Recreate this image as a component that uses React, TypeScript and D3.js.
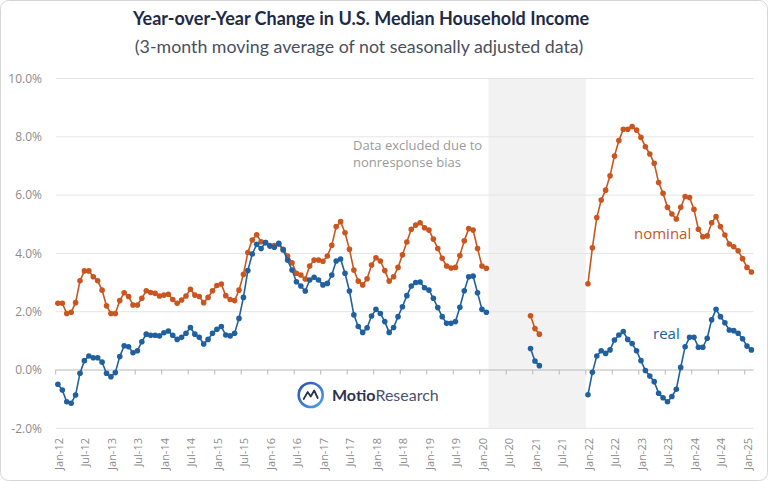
import { useEffect, useRef } from "react";
import * as d3 from "d3";

const WIDTH = 768;
const HEIGHT = 481;

// Monthly categories Jan-12 .. Feb-25
const MONTH_NAMES = ["Jan", "Feb", "Mar", "Apr", "May", "Jun", "Jul", "Aug", "Sep", "Oct", "Nov", "Dec"];
const START_YEAR = 2012;
const MONTH_COUNT = 158;
const months: string[] = d3.range(MONTH_COUNT).map(
  (i) => `${MONTH_NAMES[i % 12]}-${String((START_YEAR + Math.floor(i / 12)) % 100).padStart(2, "0")}`
);

const yTicks = [-2, 0, 2, 4, 6, 8, 10];

// Excluded period (nonresponse bias)
const excludedStart = "Mar-20";
const excludedEnd = "Dec-21";

// YoY % change, 3-month moving average; null = excluded
const nominal: (number | null)[] = [
  2.29, 2.29, 1.94, 1.98, 2.31, 3.06, 3.40, 3.40, 3.20, 3.06, 2.74, 2.20,
  1.94, 1.94, 2.38, 2.65, 2.52, 2.23, 2.23, 2.46, 2.72, 2.66, 2.63, 2.54,
  2.57, 2.60, 2.42, 2.29, 2.40, 2.54, 2.77, 2.57, 2.52, 2.31, 2.49, 2.72,
  2.90, 2.95, 2.55, 2.42, 2.38, 2.74, 3.28, 4.03, 4.46, 4.64, 4.40, 4.37,
  4.27, 4.27, 4.31, 4.14, 3.91, 3.68, 3.32, 3.26, 3.12, 3.57, 3.77, 3.77,
  3.73, 3.91, 4.28, 4.92, 5.09, 4.71, 4.14, 3.43, 3.05, 2.92, 3.13, 3.60,
  3.85, 3.74, 3.41, 3.05, 3.20, 3.52, 3.95, 4.39, 4.83, 4.97, 5.05, 4.88,
  4.80, 4.49, 4.17, 3.83, 3.57, 3.50, 3.52, 3.93, 4.43, 4.85, 4.80, 4.17,
  3.57, 3.49, null, null, null, null, null, null, null, null, null, 1.86,
  1.42, 1.23, null, null, null, null, null, null, null, null, null, null,
  2.96, 4.19, 5.23, 5.83, 6.17, 6.66, 7.34, 7.87, 8.26, 8.26, 8.35, 8.23,
  7.98, 7.66, 7.41, 7.09, 6.43, 6.06, 5.58, 5.35, 5.18, 5.58, 5.95, 5.92,
  5.51, 4.83, 4.57, 4.60, 5.05, 5.26, 4.92, 4.63, 4.32, 4.23, 4.09, 3.82,
  3.52, 3.36,
];

const real: (number | null)[] = [
  -0.49, -0.69, -1.09, -1.14, -0.86, -0.11, 0.32, 0.48, 0.42, 0.42, 0.27, -0.11,
  -0.23, -0.09, 0.46, 0.83, 0.80, 0.59, 0.66, 0.97, 1.23, 1.19, 1.19, 1.17,
  1.28, 1.34, 1.19, 1.05, 1.12, 1.26, 1.46, 1.23, 1.12, 0.89, 1.05, 1.26,
  1.40, 1.49, 1.20, 1.17, 1.26, 1.77, 2.49, 3.41, 3.98, 4.31, 4.17, 4.37,
  4.25, 4.21, 4.35, 4.12, 3.77, 3.43, 3.03, 2.88, 2.71, 3.09, 3.18, 3.09,
  2.92, 2.97, 3.26, 3.74, 3.81, 3.32, 2.71, 1.89, 1.49, 1.29, 1.45, 1.85,
  2.08, 1.94, 1.66, 1.29, 1.46, 1.83, 2.17, 2.55, 2.88, 3.00, 3.02, 2.82,
  2.74, 2.46, 2.14, 1.83, 1.60, 1.60, 1.66, 2.15, 2.72, 3.20, 3.22, 2.65,
  2.08, 1.98, null, null, null, null, null, null, null, null, null, 0.74,
  0.31, 0.15, null, null, null, null, null, null, null, null, null, null,
  -0.85, -0.08, 0.48, 0.66, 0.57, 0.69, 1.03, 1.20, 1.32, 1.05, 0.91, 0.66,
  0.32, -0.02, -0.21, -0.40, -0.80, -0.95, -1.09, -0.91, -0.66, 0.09, 0.80, 1.12,
  1.12, 0.78, 0.78, 1.09, 1.72, 2.08, 1.83, 1.62, 1.37, 1.35, 1.26, 1.07,
  0.82, 0.69,
];

const ORANGE = "#c9561f";
const BLUE = "#21609f";
const PLOT = { left: 55.7, right: 753.6, top: 78.5, bottom: 428.3 };
const FONT = "'Open Sans', 'Noto Sans', sans-serif";
const TITLE_FONT = "Lato, 'Open Sans', sans-serif";

export default function App() {
  const svgRef = useRef<SVGSVGElement>(null);

  useEffect(() => {
    const svg = d3.select(svgRef.current);
    svg.selectAll("*").remove();

    svg.append("rect")
      .attr("x", 0.5).attr("y", 0.5)
      .attr("width", WIDTH - 1).attr("height", HEIGHT - 1)
      .attr("rx", 8)
      .attr("fill", "#ffffff")
      .attr("stroke", "#d6d6d6");

    const x = d3.scaleBand<string>()
      .domain(months)
      .range([PLOT.left, PLOT.right])
      .padding(0);
    const bw = x.bandwidth();
    const cx = (m: string) => (x(m) ?? 0) + bw / 2;

    const y = d3.scaleLinear().domain([-2, 10]).range([PLOT.bottom, PLOT.top]);

    // Excluded band
    svg.append("rect")
      .attr("x", x(excludedStart) ?? 0)
      .attr("y", y(10))
      .attr("width", (x(excludedEnd) ?? 0) + bw - (x(excludedStart) ?? 0))
      .attr("height", y(-2) - y(10))
      .attr("fill", "#f2f2f2");

    // Gridlines
    yTicks.filter((t) => t !== 0).forEach((t) => {
      svg.append("line")
        .attr("x1", PLOT.left).attr("x2", PLOT.right)
        .attr("y1", y(t)).attr("y2", y(t))
        .attr("stroke", "#e4e4e4")
        .attr("stroke-width", 1);
    });

    // Zero axis with ticks
    svg.append("line")
      .attr("x1", PLOT.left).attr("x2", PLOT.right)
      .attr("y1", y(0)).attr("y2", y(0))
      .attr("stroke", "#b8b8b8")
      .attr("stroke-width", 1);

    const tickMonths = months.filter((_, i) => i % 6 === 0);
    tickMonths.forEach((m) => {
      svg.append("line")
        .attr("x1", x(m) ?? 0).attr("x2", x(m) ?? 0)
        .attr("y1", y(0)).attr("y2", y(0) + 4.5)
        .attr("stroke", "#b8b8b8");
    });

    // Y labels
    yTicks.forEach((t) => {
      svg.append("text")
        .attr("x", 42)
        .attr("y", y(t))
        .attr("dy", "0.35em")
        .attr("text-anchor", "end")
        .attr("font-size", "12px")
        .attr("font-family", FONT)
        .attr("fill", "#8c8c8c")
        .text(`${t.toFixed(1)}%`);
    });

    // X labels (rotated)
    tickMonths.forEach((m) => {
      svg.append("text")
        .attr("transform", `translate(${cx(m) + 1},438) rotate(-90)`)
        .attr("dy", "0.35em")
        .attr("text-anchor", "end")
        .attr("font-size", "11px")
        .attr("font-family", FONT)
        .attr("fill", "#8c8c8c")
        .text(m);
    });

    // Annotation
    ["Data excluded due to", "nonresponse bias"].forEach((s, i) => {
      svg.append("text")
        .attr("x", 353)
        .attr("y", 150 + i * 17)
        .attr("font-size", "13px")
        .attr("font-family", FONT)
        .attr("fill", "#9a9a9a")
        .text(s);
    });

    // Series
    const drawSeries = (values: (number | null)[], color: string) => {
      const pts = months.map((m, i) => ({ m, v: values[i] }));
      const line = d3.line<{ m: string; v: number | null }>()
        .defined((d) => d.v !== null)
        .x((d) => cx(d.m))
        .y((d) => y(d.v as number));
      svg.append("path")
        .attr("d", line(pts))
        .attr("fill", "none")
        .attr("stroke", color)
        .attr("stroke-width", 1.6);
      svg.append("g")
        .selectAll("circle")
        .data(pts.filter((d) => d.v !== null))
        .join("circle")
        .attr("cx", (d) => cx(d.m))
        .attr("cy", (d) => y(d.v as number))
        .attr("r", 2.8)
        .attr("fill", color);
    };
    drawSeries(nominal, ORANGE);
    drawSeries(real, BLUE);

    // Series labels
    svg.append("text")
      .attr("x", 634).attr("y", 239)
      .attr("font-size", "15px")
      .attr("font-family", FONT)
      .attr("fill", ORANGE)
      .text("nominal");
    svg.append("text")
      .attr("x", 653).attr("y", 339)
      .attr("font-size", "15px")
      .attr("font-family", FONT)
      .attr("fill", BLUE)
      .text("real");

    // Title
    svg.append("text")
      .attr("x", 361).attr("y", 25)
      .attr("text-anchor", "middle")
      .attr("font-size", "18px")
      .attr("font-weight", "bold")
      .attr("font-family", TITLE_FONT)
      .attr("fill", "#1e2b48")
      .text("Year-over-Year Change in U.S. Median Household Income");
    svg.append("text")
      .attr("x", 359).attr("y", 52.5)
      .attr("text-anchor", "middle")
      .attr("font-size", "17.8px")
      .attr("font-family", TITLE_FONT)
      .attr("fill", "#4a4f5c")
      .text("(3-month moving average of not seasonally adjusted data)");

    // Logo
    const defs = svg.append("defs");
    const grad = defs.append("linearGradient")
      .attr("id", "logoGrad")
      .attr("x1", "0").attr("y1", "0").attr("x2", "1").attr("y2", "1");
    grad.append("stop").attr("offset", "0%").attr("stop-color", "#2a4fb0");
    grad.append("stop").attr("offset", "100%").attr("stop-color", "#4aa3f0");
    const logo = svg.append("g").attr("transform", "translate(310.7,395)");
    logo.append("circle")
      .attr("r", 12)
      .attr("fill", "none")
      .attr("stroke", "url(#logoGrad)")
      .attr("stroke-width", 2.6);
    logo.append("path")
      .attr("d", "M-7,4 L-3,-3 L0,1.5 L3.5,-4.5 L7,3")
      .attr("fill", "none")
      .attr("stroke", "#2b3350")
      .attr("stroke-width", 1.8)
      .attr("stroke-linejoin", "round")
      .attr("stroke-linecap", "round");
    const logoText = svg.append("text")
      .attr("x", 332).attr("y", 401)
      .attr("font-size", "16px")
      .attr("font-family", TITLE_FONT);
    logoText.append("tspan").attr("font-weight", "bold").attr("fill", "#2b3350").text("Motio");
    logoText.append("tspan").attr("fill", "#4a5272").text("Research");
  }, []);

  return (
    <div style={{ position: "fixed", left: 0, top: 0, width: WIDTH, height: HEIGHT, background: "#fff" }}>
      <svg ref={svgRef} width={WIDTH} height={HEIGHT} />
    </div>
  );
}
